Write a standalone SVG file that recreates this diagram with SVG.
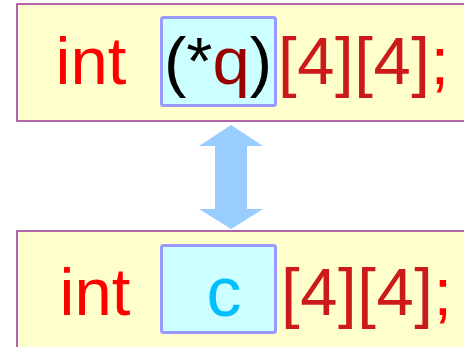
<svg xmlns="http://www.w3.org/2000/svg" width="464" height="347" viewBox="0 0 464 347">
  <style>
    .panel { fill: #ffffcc; stroke: #993399; stroke-width: 1.5; }
    .slot { fill: #ccffff; stroke: #9999ff; stroke-width: 3; }
    .code { font-family: "Liberation Sans", Arial, sans-serif; font-size: 67px; }
    .kw { fill: #ff0000; }
    .dim { fill: #cc1a1a; letter-spacing: 0.6px; }
    .semi { fill: #ff0000; }
    .punct { fill: #000000; }
    .ptr { fill: #990000; }
    .name { font-family: "Liberation Sans", Arial, sans-serif; font-size: 70px; fill: #00bfff; }
    .equiv { fill: #99ccff; }
  </style>

  <!-- declaration of a pointer to an array -->
  <g id="pointer-decl">
    <rect class="panel" x="17" y="4" width="460" height="117"/>
    <rect class="slot" x="161.5" y="17.5" width="114" height="88" rx="2"/>
    <text class="code kw" x="55.5" y="84">int</text>
    <text class="code punct" x="164" y="84">(*<tspan class="ptr">q</tspan>)</text>
    <text class="code dim" x="278" y="84">[4][4]<tspan class="semi">;</tspan></text>
  </g>

  <!-- equivalence arrow -->
  <g id="connectors">
    <polygon class="equiv" points="231,125 263,146 247,146 247,209 263,209 231,229 199,209 215,209 215,146 199,146"/>
  </g>

  <!-- declaration of the array itself -->
  <g id="array-decl">
    <rect class="panel" x="17" y="231" width="460" height="130"/>
    <rect class="slot" x="161.5" y="245.5" width="114" height="87" rx="2"/>
    <text class="code kw" x="59.5" y="315">int</text>
    <text class="name" x="206.5" y="316">c</text>
    <text class="code dim" x="281" y="315">[4][4]<tspan class="semi">;</tspan></text>
  </g>
</svg>
